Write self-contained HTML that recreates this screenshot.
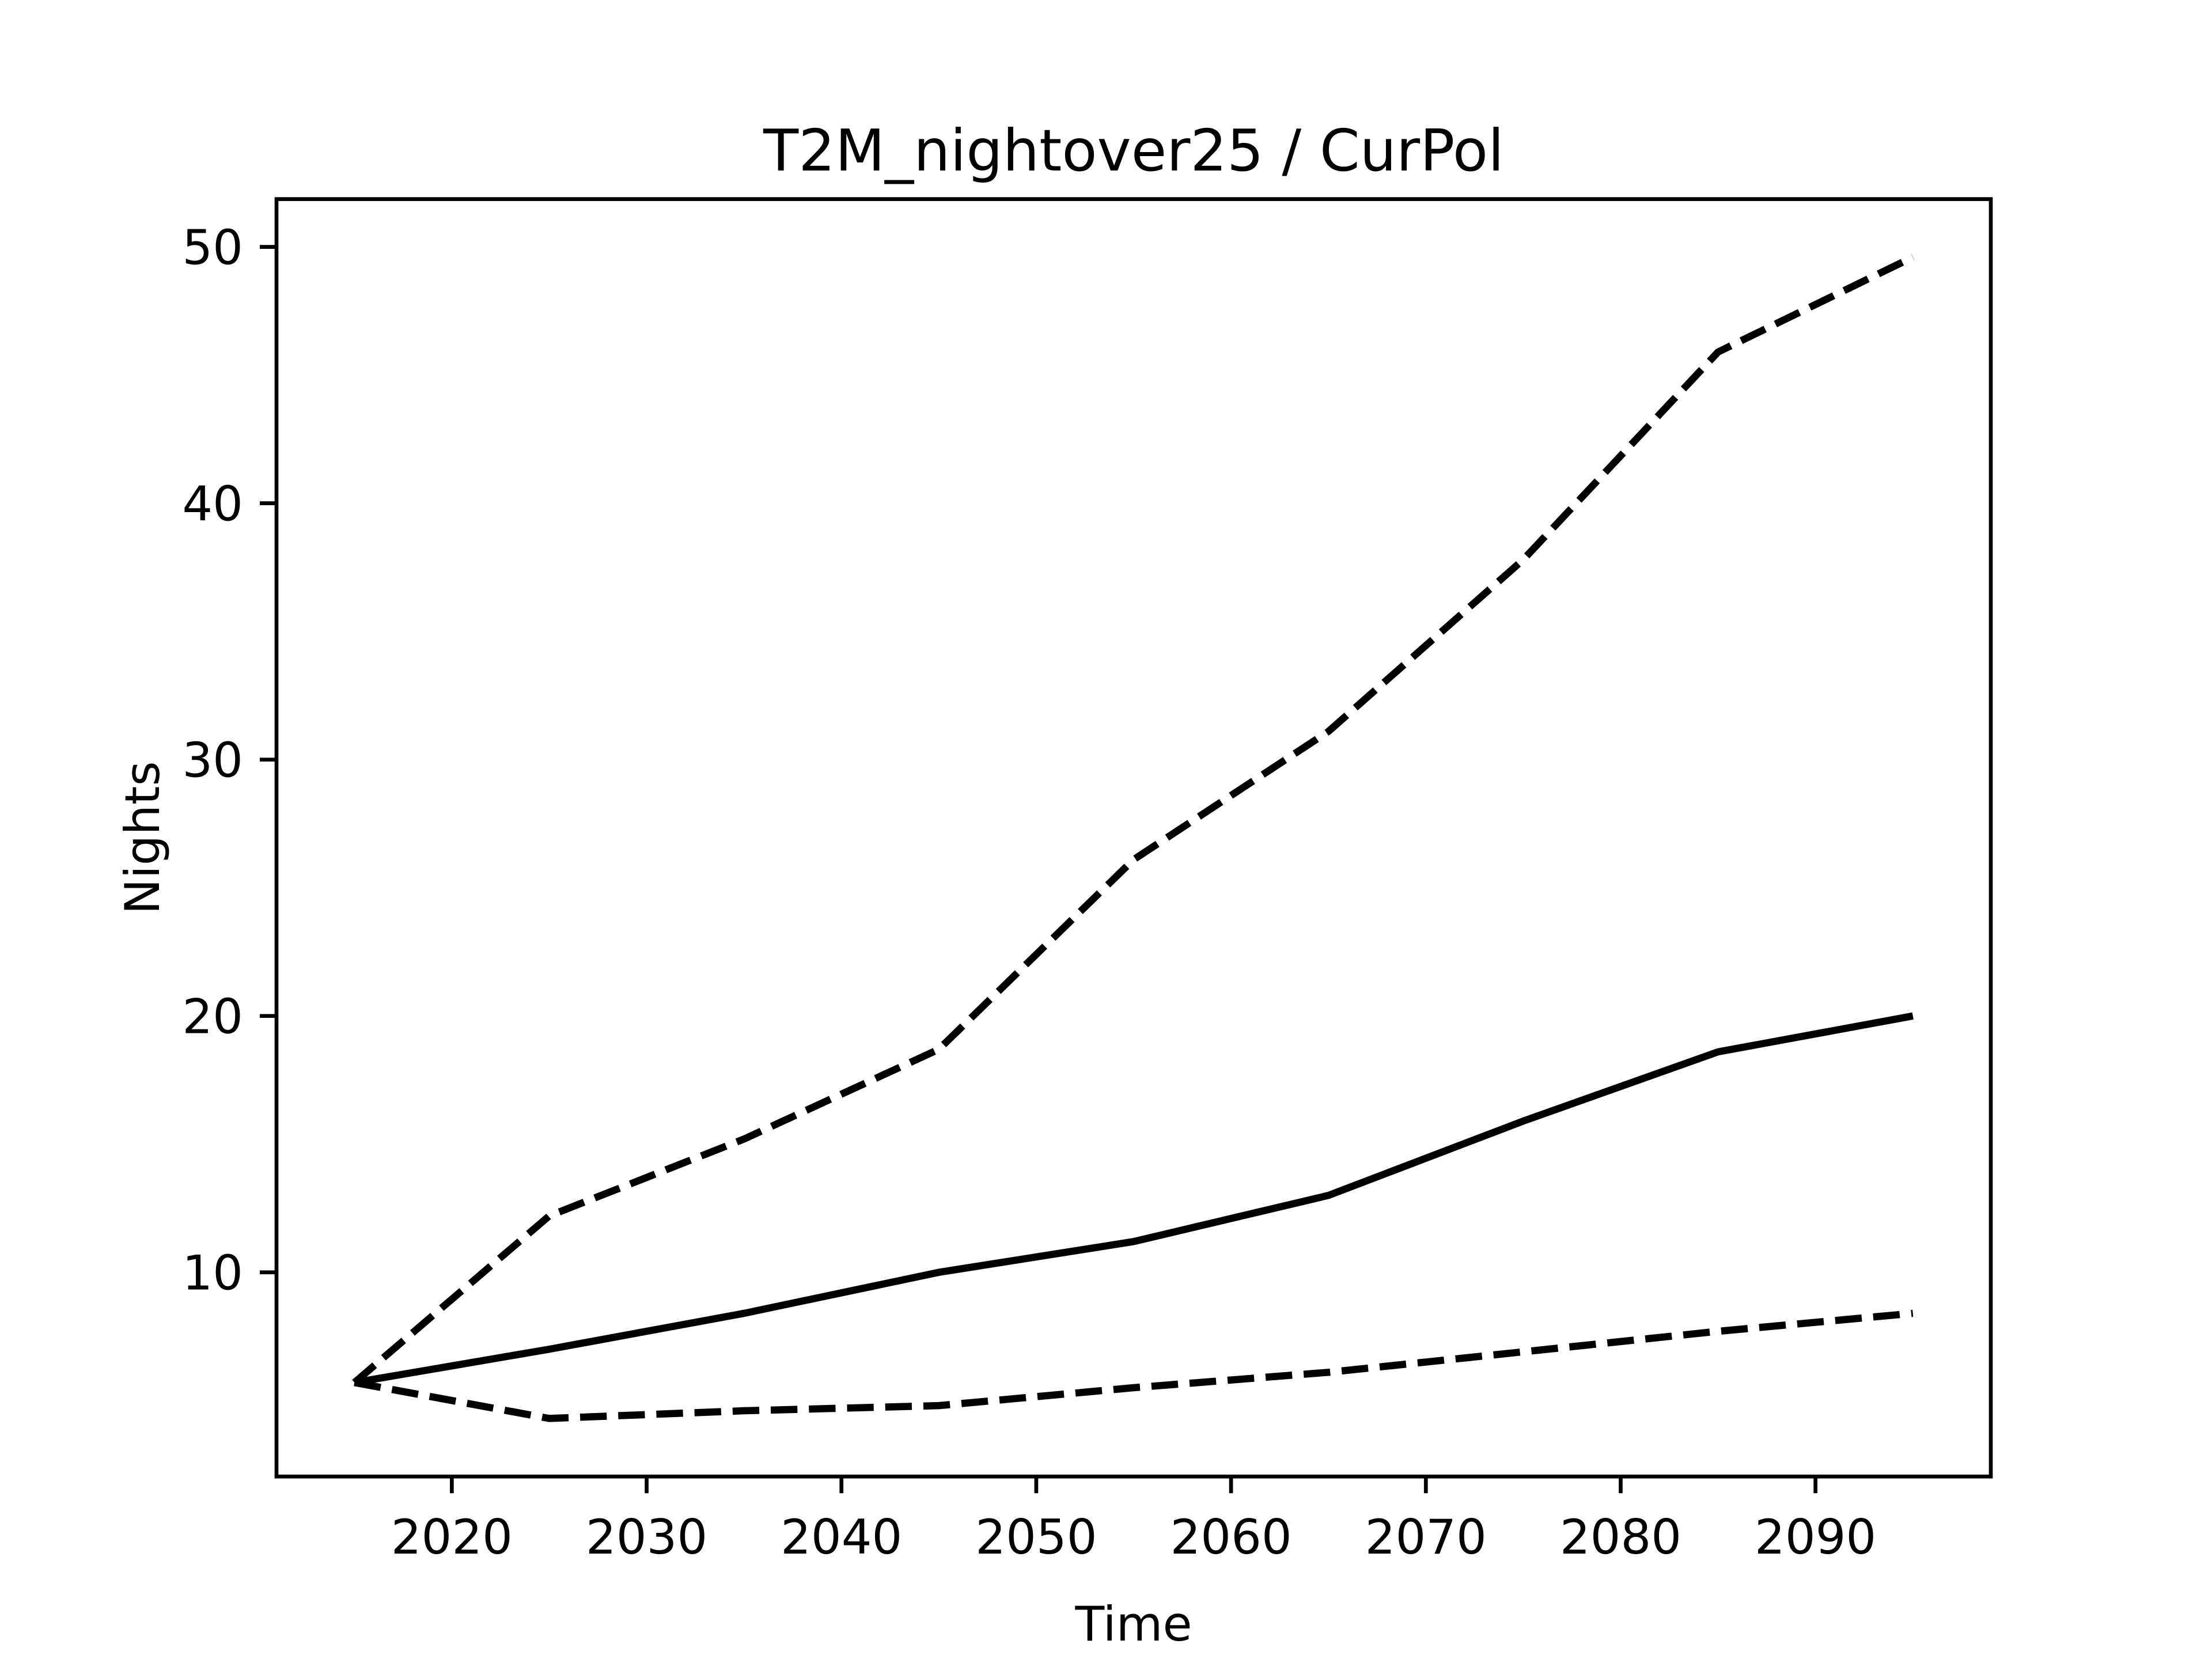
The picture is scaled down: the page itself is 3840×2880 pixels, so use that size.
<!DOCTYPE html>
<html><head><meta charset="utf-8"><style>html,body{margin:0;padding:0;background:#fff}svg{display:block}text{font-family:"DejaVu Sans","Liberation Sans",sans-serif;fill:#000}</style></head>
<body>
<svg id="chart" width="3840" height="2880" viewBox="0 0 3840 2880" xmlns="http://www.w3.org/2000/svg">
<rect width="3840" height="2880" fill="#fff"/>
<g id="plot"></g>
</svg>
<script>
const years = [2015, 2025, 2035, 2045, 2055, 2065, 2075, 2085, 2095];
const medianVals = [5.7, 7.0, 8.4, 10.0, 11.2, 13.0, 15.9, 18.6, 20.0];
const upperVals = [5.7, 12.2, 15.2, 18.7, 26.1, 31.1, 37.8, 45.9, 49.6];
const lowerVals = [5.7, 4.3, 4.6, 4.8, 5.5, 6.1, 6.9, 7.7, 8.4];
const xTicks = [2020, 2030, 2040, 2050, 2060, 2070, 2080, 2090];
const yTicks = [10, 20, 30, 40, 50];

const NS = "http://www.w3.org/2000/svg";
const L = 480, R = 3456, T = 345.6, B = 2563.2;
const allV = medianVals.concat(upperVals, lowerVals);
const xmin0 = Math.min(...years), xmax0 = Math.max(...years);
const ymin0 = Math.min(...allV), ymax0 = Math.max(...allV);
const xm = (xmax0 - xmin0) * 0.05, ym = (ymax0 - ymin0) * 0.05;
const x0 = xmin0 - xm, x1 = xmax0 + xm, y0 = ymin0 - ym, y1 = ymax0 + ym;
const sx = v => L + (v - x0) / (x1 - x0) * (R - L);
const sy = v => B - (v - y0) / (y1 - y0) * (B - T);
const g = document.getElementById('plot');
function mk(tag, attrs) { const e = document.createElementNS(NS, tag); for (const k in attrs) e.setAttribute(k, attrs[k]); g.appendChild(e); return e; }

function series(vals, dashed, name) {
  const pts = years.map((y, i) => sx(y) + ',' + sy(vals[i])).join(' ');
  const p = mk('polyline', {points: pts, fill: 'none', stroke: '#000', 'stroke-width': 12.5, 'stroke-linejoin': 'round'});
  if (dashed) p.setAttribute('stroke-dasharray', '46.25 20');
  
  
}
series(upperVals, true, 'upper-bound-line');
series(lowerVals, true, 'lower-bound-line');
series(medianVals, false, 'median-line');

const frame = mk('rect', {x: L, y: T, width: R - L, height: B - T, fill: 'none', stroke: '#000', 'stroke-width': 6.7});



xTicks.forEach(t => {
  const tk = mk('line', {x1: sx(t), x2: sx(t), y1: B, y2: B + 29, stroke: '#000', 'stroke-width': 6.7});
  
  
  const tx = mk('text', {x: sx(t), y: B + 58 + 76, 'font-size': 83, 'text-anchor': 'middle'});
  tx.textContent = t;
  
  
});
yTicks.forEach(t => {
  const tk = mk('line', {x1: L - 29, x2: L, y1: sy(t), y2: sy(t), stroke: '#000', 'stroke-width': 6.7});
  
  
  const tx = mk('text', {x: L - 58, y: sy(t) + 30, 'font-size': 83, 'text-anchor': 'end'});
  tx.textContent = t;
  
  
});
const title = mk('text', {x: (L + R) / 2, y: 296, 'font-size': 100, 'text-anchor': 'middle'});
title.textContent = 'T2M_nightover25 / CurPol';


const xl = mk('text', {x: (L + R) / 2, y: 2848, 'font-size': 83, 'text-anchor': 'middle'});
xl.textContent = 'Time';


const yl = mk('text', {x: 0, y: 0, 'font-size': 83, 'text-anchor': 'middle', transform: 'translate(276,' + (T + B) / 2 + ') rotate(-90)'});
yl.textContent = 'Nights';


</script>
</body></html>
